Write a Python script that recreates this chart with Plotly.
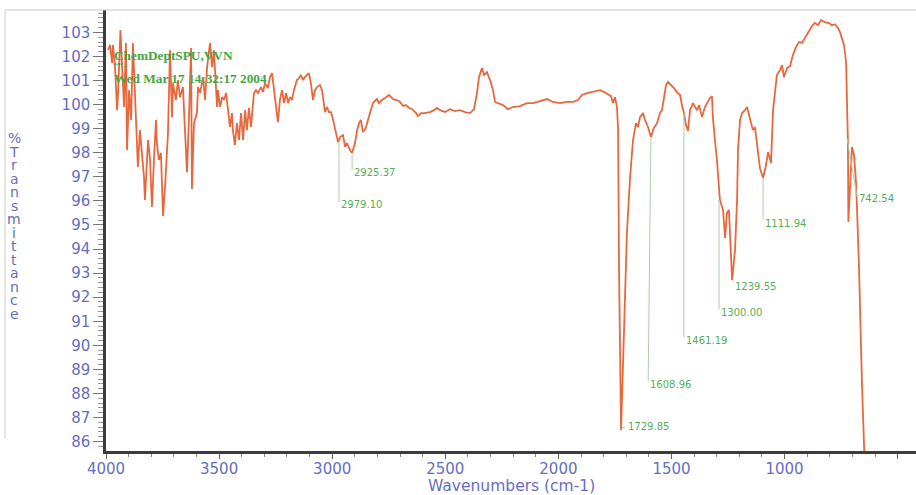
import plotly.graph_objects as go

# ---------------- data ----------------
wavenumber = [
    3991, 3982, 3973, 3969, 3960, 3951, 3947, 3936, 3929, 3920,
    3912, 3907, 3898, 3889, 3881, 3872, 3863, 3859, 3850, 3841,
    3832, 3828, 3819, 3814, 3805, 3797, 3788, 3779, 3775, 3766,
    3757, 3748, 3739, 3726, 3717, 3708, 3704, 3691, 3682, 3673,
    3660, 3655, 3642, 3633, 3624, 3620, 3611, 3598, 3593, 3584,
    3571, 3562, 3553, 3540, 3531, 3523, 3509, 3505, 3496, 3487,
    3478, 3469, 3461, 3452, 3443, 3439, 3430, 3421, 3412, 3403,
    3394, 3385, 3377, 3368, 3359, 3346, 3337, 3328, 3315, 3306,
    3297, 3284, 3275, 3266, 3257, 3248, 3240, 3231, 3222, 3213,
    3204, 3195, 3187, 3178, 3169, 3156, 3147, 3138, 3129, 3121,
    3103, 3094, 3085, 3076, 3067, 3054, 3045, 3032, 3023, 3014,
    3005, 2996, 2983, 2974, 2965, 2952, 2943, 2935, 2921, 2912,
    2899, 2890, 2881, 2873, 2864, 2851, 2842, 2833, 2820, 2811,
    2802, 2793, 2780, 2767, 2749, 2731, 2714, 2700, 2687, 2674,
    2660, 2647, 2629, 2621, 2607, 2590, 2568, 2550, 2537, 2523,
    2501, 2479, 2457, 2435, 2413, 2391, 2373, 2360, 2351, 2338,
    2329, 2316, 2302, 2289, 2280, 2267, 2245, 2223, 2201, 2170,
    2139, 2112, 2081, 2050, 2024, 1993, 1962, 1935, 1913, 1896,
    1873, 1856, 1838, 1816, 1798, 1781, 1767, 1759, 1750, 1741,
    1736, 1732, 1723, 1719, 1710, 1697, 1683, 1670, 1657, 1648,
    1639, 1626, 1617, 1604, 1591, 1578, 1564, 1551, 1542, 1533,
    1524, 1516, 1502, 1489, 1476, 1462, 1454, 1445, 1436, 1427,
    1418, 1405, 1396, 1387, 1378, 1365, 1352, 1339, 1330, 1321,
    1317, 1308, 1299, 1286, 1272, 1263, 1255, 1246, 1241, 1232,
    1219, 1210, 1206, 1197, 1188, 1175, 1166, 1153, 1140, 1131,
    1122, 1109, 1095, 1082, 1073, 1065, 1060, 1051, 1042, 1034,
    1020, 1011, 1003, 989, 976, 963, 950, 936, 923, 910,
    896, 879, 866, 852, 839, 822, 804, 790, 777, 764,
    755, 746, 737, 728, 724, 720, 718, 711, 702, 693,
    684, 680, 671, 658, 649, 645,
]

transmittance = [
    102.27, 102.47, 101.73, 102.47, 101.56, 99.77, 100.40, 103.10, 101.56, 99.90,
    102.56, 98.11, 100.60, 99.36, 102.56, 100.48, 98.82, 97.41, 98.94, 97.99,
    96.99, 96.04, 97.41, 98.53, 97.70, 95.75, 97.70, 99.36, 98.40, 97.70,
    97.99, 95.37, 96.58, 98.82, 102.26, 99.48, 100.89, 100.19, 101.02, 100.31,
    100.73, 99.77, 97.19, 99.48, 102.35, 96.49, 99.23, 99.65, 100.73, 100.48,
    101.14, 100.19, 101.56, 102.56, 101.56, 102.26, 99.90, 100.60, 99.90, 100.31,
    100.19, 100.48, 99.77, 99.07, 99.65, 98.94, 98.32, 99.23, 98.53, 99.65,
    98.53, 99.77, 98.94, 99.86, 99.07, 100.48, 100.60, 100.48, 100.73, 100.52,
    100.89, 100.69, 101.14, 101.31, 100.60, 99.90, 99.27, 100.19, 100.60, 100.06,
    100.48, 100.06, 100.31, 100.19, 100.60, 101.02, 101.10, 101.23, 101.02, 101.14,
    101.31, 100.89, 100.19, 100.60, 100.73, 100.81, 100.60, 99.69, 99.90, 99.69,
    99.69, 99.36, 98.82, 98.44, 98.65, 98.73, 98.24, 98.40, 98.11, 97.99,
    98.40, 98.94, 99.23, 99.36, 98.86, 99.03, 99.36, 99.65, 100.06, 100.15,
    100.23, 100.06, 100.19, 100.27, 100.40, 100.23, 100.19, 100.11, 99.94, 99.98,
    99.86, 99.81, 99.65, 99.52, 99.65, 99.65, 99.69, 99.77, 99.86, 99.77,
    99.69, 99.81, 99.73, 99.77, 99.69, 99.65, 99.81, 100.48, 101.14, 101.52,
    101.23, 101.35, 101.02, 100.60, 100.11, 100.06, 99.98, 99.81, 99.90, 99.94,
    100.06, 100.06, 100.15, 100.23, 100.11, 100.06, 100.11, 100.11, 100.19, 100.40,
    100.48, 100.52, 100.56, 100.60, 100.52, 100.44, 100.35, 100.06, 100.31, 99.90,
    98.94, 93.25, 86.48, 87.73, 90.51, 94.67, 96.99, 98.53, 99.23, 99.07,
    99.48, 99.65, 99.36, 99.07, 98.65, 99.03, 99.23, 99.65, 99.77, 100.40,
    100.81, 100.94, 100.81, 100.69, 100.52, 100.40, 99.98, 99.65, 99.15, 98.90,
    99.77, 100.06, 99.90, 99.77, 99.98, 99.48, 99.90, 100.15, 100.27, 100.35,
    99.48, 98.53, 97.70, 96.04, 95.62, 94.46, 95.50, 95.62, 94.37, 92.71,
    93.96, 96.04, 98.11, 99.36, 99.65, 99.77, 99.90, 99.36, 98.94, 99.07,
    98.40, 97.36, 96.95, 97.49, 98.03, 97.70, 97.57, 99.77, 100.60, 101.23,
    101.43, 101.64, 101.14, 101.52, 101.60, 102.06, 102.39, 102.60, 102.56, 102.76,
    103.01, 103.26, 103.39, 103.30, 103.51, 103.43, 103.39, 103.30, 103.34, 103.18,
    103.01, 102.76, 102.47, 101.73, 100.06, 98.44, 95.12, 96.74, 98.24, 97.90,
    96.74, 95.75, 93.25, 88.44, 85.65, 84.80,
]

x_tick_values = [4000, 3500, 3000, 2500, 2000, 1500, 1000, 500]
x_tick_labels = ["4000", "3500", "3000", "2500", "2000", "1500", "1000", ""]

header_lines = ["ChemDeptSPU,VVN", "***.;", "Wed Mar 17 14:32:17 2004"]

peak_labels = ["2979.10", "2925.37", "1729.85", "1608.96", "1461.19",
               "1300.00", "1239.55", "1111.94", "742.54"]
# where each label text sits (data units)
peak_label_x = [2970, 2912, 1702, 1603, 1445, 1290, 1228, 1095, 680]
peak_label_y = [95.83, 97.16, 86.61, 88.36, 90.18, 91.35, 92.46, 95.08, 96.08]
# leader lines from the peak down to the label (data units)
leader_x0 = [2970, 2912, 1721, 1591, 1445, 1290, None, 1095, 724]
leader_y0 = [98.40, 97.90, 86.55, 98.61, 99.65, 96.04, None, 96.95, 98.61]
leader_x1 = [2970, 2912, 1704, 1603, 1445, 1290, None, 1095, 680]
leader_y1 = [95.95, 97.30, 86.62, 88.50, 90.32, 91.50, None, 95.25, 96.20]

y_title = "%Transmittance"

# ---------------- styles ----------------
CURVE = "rgb(232,104,62)"
AXIS_TXT = "rgb(102,110,194)"
HEAD_GREEN = "rgb(66,166,66)"
PEAK_GREEN = "rgb(88,174,88)"
LEADER = "rgb(172,205,172)"
FONT = "DejaVu Sans"

W, H = 916, 495
ML, MR, MT, MB = 106, 0, 10, 44
PW, PH = W - ML - MR, H - MT - MB


def px_x(px):
    return (px - ML) / PW


def px_y(py):
    return (H - MB - py) / PH


fig = go.Figure()
fig.add_trace(go.Scatter(
    x=wavenumber, y=transmittance, mode="lines",
    line=dict(color=CURVE, width=1.8), hoverinfo="skip",
))

shapes = []
for x0, y0, x1, y1 in zip(leader_x0, leader_y0, leader_x1, leader_y1):
    if x0 is None:
        continue
    shapes.append(dict(type="line", xref="x", yref="y", x0=x0, y0=y0, x1=x1, y1=y1,
                       line=dict(color=LEADER, width=1)))
# faint border of the scanned sheet
shapes.append(dict(type="line", xref="paper", yref="paper",
                   x0=px_x(5), y0=1, x1=1, y1=1,
                   line=dict(color="rgb(200,200,200)", width=1)))
shapes.append(dict(type="line", xref="paper", yref="paper",
                   x0=px_x(5), y0=1, x1=px_x(5), y1=px_y(438),
                   line=dict(color="rgb(205,205,205)", width=1)))

annotations = []
for txt, x, y in zip(peak_labels, peak_label_x, peak_label_y):
    annotations.append(dict(x=x, y=y, xref="x", yref="y", text=txt, showarrow=False,
                            xanchor="left", yanchor="middle",
                            font=dict(family=FONT, size=10, color=PEAK_GREEN)))

head_y = [55, 65, 78]
head_size = [13.3, 6, 13.3]
for txt, py, sz in zip(header_lines, head_y, head_size):
    annotations.append(dict(x=px_x(112), y=px_y(py), xref="paper", yref="paper",
                            text="<b>%s</b>" % txt, showarrow=False,
                            xanchor="left", yanchor="middle",
                            font=dict(family="Liberation Serif", size=sz, color=HEAD_GREEN)))

for i, ch in enumerate(y_title):
    annotations.append(dict(x=px_x(14), y=px_y(138 + 13.5 * i), xref="paper", yref="paper",
                            text=ch, showarrow=False, xanchor="center", yanchor="middle",
                            font=dict(family=FONT, size=14, color=AXIS_TXT)))

annotations.append(dict(x=px_x(511), y=px_y(486.5), xref="paper", yref="paper",
                        text="Wavenumbers (cm-1)", showarrow=False,
                        xanchor="center", yanchor="middle",
                        font=dict(family=FONT, size=15.5, color=AXIS_TXT)))

fig.update_layout(
    width=W, height=H,
    margin=dict(l=ML, r=MR, t=MT, b=MB, pad=0),
    paper_bgcolor="white", plot_bgcolor="white",
    showlegend=False,
    shapes=shapes, annotations=annotations,
    xaxis=dict(
        range=[4000, 419], tickmode="array", tickvals=x_tick_values, ticktext=x_tick_labels,
        ticks="outside", ticklen=5, tickwidth=1, tickcolor="#666",
        ticklabelstandoff=-3,
        showline=True, linecolor="#3c3c3c", linewidth=2.5,
        showgrid=False, zeroline=False,
        tickfont=dict(family=FONT, size=15, color=AXIS_TXT),
        minor=dict(tickmode="linear", tick0=0, dtick=100, ticks="outside",
                   ticklen=3, tickwidth=1, tickcolor="#888", showgrid=False),
    ),
    yaxis=dict(
        range=[85.61, 103.93], tickmode="linear", tick0=86, dtick=1,
        ticks="outside", ticklen=10, tickwidth=1, tickcolor="#777",
        showline=True, linecolor="#3c3c3c", linewidth=2.5,
        showgrid=False, zeroline=False,
        tickfont=dict(family=FONT, size=15, color=AXIS_TXT),
        minor=dict(tickmode="linear", tick0=86, dtick=0.2, ticks="outside",
                   ticklen=5, tickwidth=1, tickcolor="#999", showgrid=False),
    ),
)

fig.write_html(
    "out.html",
    config={"displayModeBar": False},
    post_script="document.body.style.margin='0';document.body.style.padding='0';",
)
